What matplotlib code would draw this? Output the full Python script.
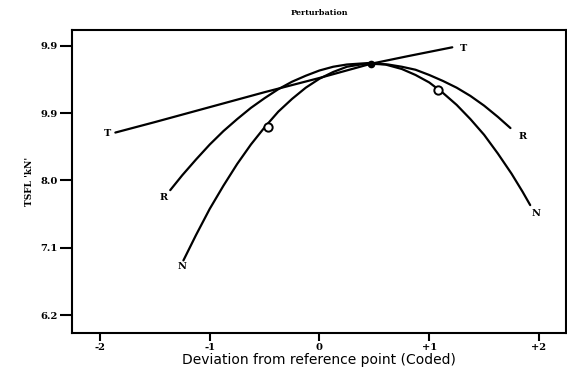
import matplotlib
matplotlib.use("Agg")
import matplotlib.pyplot as plt

# ---- data ----
t_x = [-1.86, -1.5, -1.0, -0.5, 0.0, 0.47, 0.8, 1.21]
t_y = [8.64, 8.78, 8.98, 9.18, 9.37, 9.56, 9.66, 9.78]

r_x = [-1.36, -1.25, -1.125, -1.0, -0.875, -0.75, -0.625, -0.5, -0.375, -0.25, -0.125,
       0.0, 0.125, 0.25, 0.45, 0.625, 0.75, 0.875, 1.0, 1.125, 1.25, 1.375, 1.5, 1.625, 1.74]
r_y = [7.87, 8.07, 8.28, 8.48, 8.66, 8.82, 8.97, 9.10, 9.22, 9.32, 9.40,
       9.47, 9.52, 9.55, 9.57, 9.55, 9.52, 9.48, 9.41, 9.33, 9.24, 9.13, 9.00, 8.85, 8.70]

n_x = [-1.24, -1.125, -1.0, -0.875, -0.75, -0.625, -0.5, -0.375, -0.25, -0.125,
       0.0, 0.125, 0.25, 0.375, 0.47, 0.6, 0.75, 0.875, 1.0, 1.125, 1.25, 1.375,
       1.5, 1.625, 1.75, 1.85, 1.92]
n_y = [6.93, 7.27, 7.62, 7.93, 8.22, 8.48, 8.71, 8.92, 9.09, 9.24,
       9.36, 9.45, 9.52, 9.55, 9.56, 9.55, 9.49, 9.41, 9.31, 9.17, 9.01, 8.82,
       8.61, 8.36, 8.09, 7.85, 7.67]

ref_x = [0.47]
ref_y = [9.56]
pt_x = [-0.465, 1.08]
pt_y = [8.72, 9.21]

curve_names = ["T", "R", "N"]
xtick_values = [-2, -1, 0, 1, 2]
xtick_labels = ["-2", "-1", "0", "+1", "+2"]
ytick_values = [6.2, 7.1, 8.0, 8.9, 9.8]
ytick_labels = ["6.2", "7.1", "8.0", "9.9", "9.9"]

title = "Perturbation"
xlabel = "Deviation from reference point (Coded)"
ylabel = "TSFL 'kN'"

# ---- figure ----
fig = plt.figure(figsize=(5.67, 3.81), dpi=100)
ax = fig.add_axes([0.127, 0.126, 0.871, 0.795])

lw = 1.6
tick_font = dict(family="DejaVu Serif", weight="bold", size=7.2)
label_font = dict(family="DejaVu Serif", weight="bold", size=7)
title_font = dict(family="DejaVu Serif", weight="bold", size=5.8)
ylabel_font = dict(family="DejaVu Serif", weight="bold", size=6.5)

curves = [(t_x, t_y), (r_x, r_y), (n_x, n_y)]
offsets = {
    "T": ((-6, -1), (8, -1)),
    "R": ((-5, -5), (9, -6)),
    "N": ((-1, -4), (4, -6)),
}
for name, (xs, ys) in zip(curve_names, curves):
    ax.plot(xs, ys, color="black", lw=lw, solid_capstyle="round",
            solid_joinstyle="round")
    (ol, orr) = offsets[name]
    ax.annotate(name, (xs[0], ys[0]), xytext=ol, textcoords="offset points",
                ha="center", va="center", **label_font)
    ax.annotate(name, (xs[-1], ys[-1]), xytext=orr, textcoords="offset points",
                ha="center", va="center", **label_font)

ax.plot(ref_x, ref_y, "o", color="black", ms=4.5)
ax.plot(pt_x, pt_y, "o", mfc="white", mec="black", mew=1.4, ms=6)

ax.set_xlim(-2.255, 2.245)
ax.set_ylim(5.96, 10.01)

ax.set_xticks(xtick_values)
ax.set_xticklabels(xtick_labels, fontdict=tick_font)
ax.set_yticks(ytick_values)
ax.set_yticklabels(ytick_labels, fontdict=tick_font)
ax.tick_params(axis="x", direction="out", length=6, width=1.5, pad=1)
ax.tick_params(axis="y", direction="out", length=8.5, width=1.5, pad=1.5)

for s in ax.spines.values():
    s.set_linewidth(1.5)

ax.set_title(title, fontdict=title_font, pad=11)
ax.set_xlabel(xlabel, family="DejaVu Sans", size=10, labelpad=1)
ax.set_ylabel(ylabel, fontdict=ylabel_font, labelpad=5)

fig.savefig("out.png", dpi=100)
